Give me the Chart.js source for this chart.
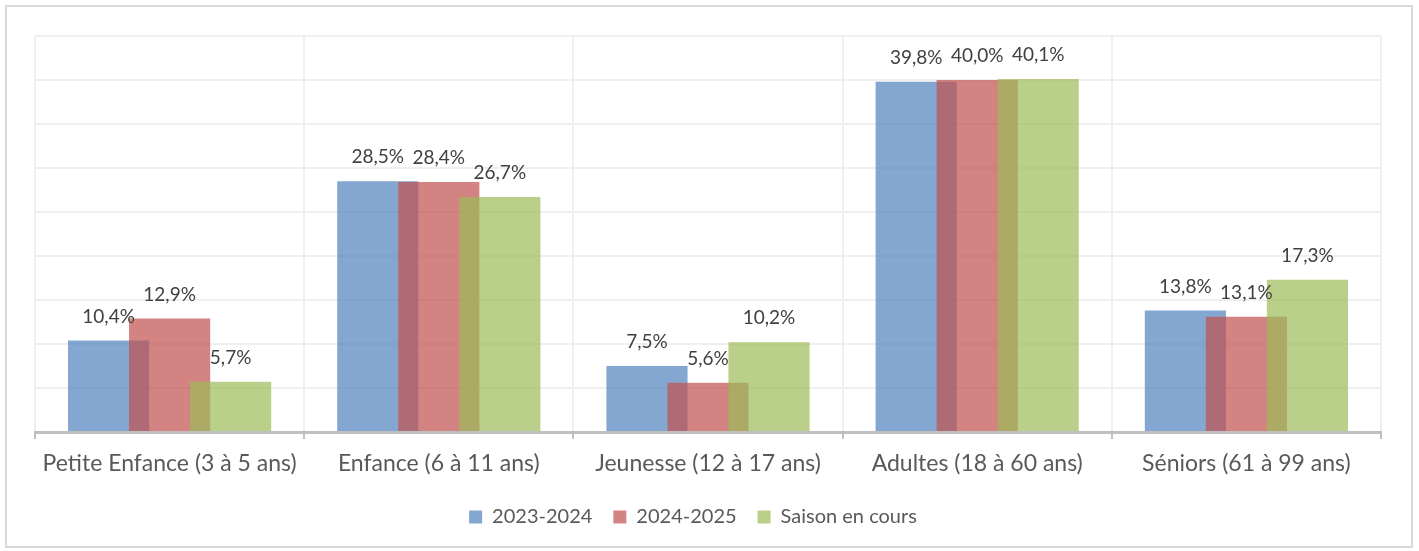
<!DOCTYPE html>
<html>
<head>
<meta charset="utf-8">
<script src="https://cdn.jsdelivr.net/npm/chart.js@4"></script>
<style>
  html, body { margin: 0; padding: 0; background: #fff; }
  #wrap { width: 1419px; height: 551px; position: relative; }
</style>
</head>
<body>
<div id="wrap"><canvas id="ageChart"></canvas></div>
<script>
const categories = ['Petite Enfance (3 à 5 ans)', 'Enfance (6 à 11 ans)', 'Jeunesse (12 à 17 ans)', 'Adultes (18 à 60 ans)', 'Séniors (61 à 99 ans)'];
const season2324 = [10.4, 28.5, 7.5, 39.8, 13.8];
const season2425 = [12.9, 28.4, 5.6, 40.0, 13.1];
const seasonCurrent = [5.7, 26.7, 10.2, 40.1, 17.3];
const seriesNames = ['2023-2024', '2024-2025', 'Saison en cours'];

const FONT = 'Lato, "Liberation Sans", sans-serif';

// draw datasets first-to-last so later series sit on top (like the original)
const drawOrder = {
    id: 'drawOrder',
    afterLayout(chart) {
        // legend sits a bit left of centre in the original
        chart.legend.left -= 15;
        chart.legend.right -= 15;
    },
    beforeDatasetsDraw(chart) {
        chart.getSortedVisibleDatasetMetas().forEach(function(meta) {
            meta.controller.draw();
        });
        return false;
    }
};

// value labels above each bar
const valueLabels = {
    id: 'valueLabels',
    afterDraw(chart) {
        const ctx = chart.ctx;
        ctx.save();
        ctx.font = '19px ' + FONT;
        ctx.fillStyle = '#404040';
        ctx.textAlign = 'center';
        ctx.textBaseline = 'middle';
        chart.getSortedVisibleDatasetMetas().forEach(function(meta) {
            const values = chart.data.datasets[meta.index].data;
            meta.data.forEach(function(bar, i) {
                const txt = values[i].toFixed(1).replace('.', ',') + '%';
                ctx.fillText(txt, bar.x, bar.y - 24);
            });
        });
        ctx.restore();
    }
};

// light frame around the whole chart
const frame = {
    id: 'frame',
    afterDraw(chart) {
        const ctx = chart.ctx;
        ctx.save();
        ctx.strokeStyle = '#d9d9d9';
        ctx.lineWidth = 2;
        ctx.strokeRect(6, 6, 1406, 541);
        ctx.restore();
    }
};

document.addEventListener('DOMContentLoaded', function() {
    const ctx = document.getElementById('ageChart').getContext('2d');
    new Chart(ctx, {
        type: 'bar',
        data: {
            labels: categories,
            datasets: [{
                label: seriesNames[0],
                data: season2324,
                backgroundColor: 'rgba(79, 129, 189, 0.7)'
            }, {
                label: seriesNames[1],
                data: season2425,
                backgroundColor: 'rgba(192, 80, 77, 0.7)'
            }, {
                label: seriesNames[2],
                data: seasonCurrent,
                backgroundColor: 'rgba(155, 187, 89, 0.7)'
            }]
        },
        options: {
            responsive: true,
            maintainAspectRatio: false,
            animation: false,
            categoryPercentage: 0.68,
            barPercentage: 1.33,
            layout: {
                padding: { left: 35, right: 38, top: 36, bottom: 14 }
            },
            scales: {
                x: {
                    grid: {
                        color: '#efefef',
                        lineWidth: 2,
                        tickColor: '#bfbfbf',
                        tickWidth: 2,
                        tickLength: 7,
                        offset: true
                    },
                    border: { color: '#bfbfbf', width: 3 },
                    ticks: {
                        color: '#595959',
                        font: { family: FONT, size: 23 },
                        padding: 11,
                        maxRotation: 0,
                        autoSkip: false
                    },
                    afterFit: function(scale) {
                        scale.height = 54;
                    }
                },
                y: {
                    min: 0,
                    max: 45,
                    ticks: { display: false, stepSize: 5 },
                    grid: { color: '#efefef', lineWidth: 2, drawTicks: false },
                    border: { display: false }
                }
            },
            plugins: {
                legend: {
                    position: 'bottom',
                    labels: {
                        boxWidth: 13,
                        boxHeight: 13,
                        padding: 21,
                        color: '#595959',
                        font: { family: FONT, size: 20 }
                    }
                },
                tooltip: { enabled: false }
            }
        },
        plugins: [drawOrder, valueLabels, frame]
    });
});
</script>
</body>
</html>
